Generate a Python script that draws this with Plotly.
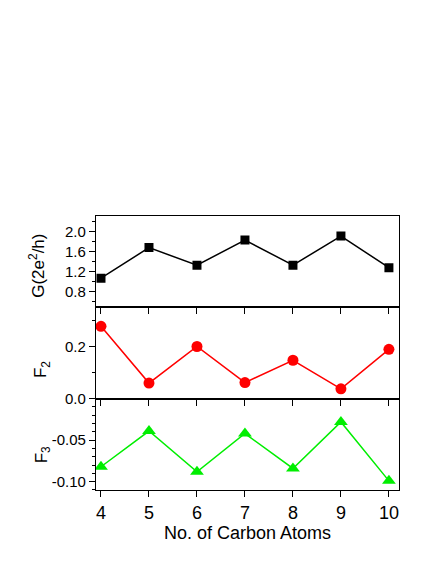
import plotly.graph_objects as go
from plotly.subplots import make_subplots

# data
carbon_atoms = [4, 5, 6, 7, 8, 9, 10]
conductance = [1.07, 1.68, 1.33, 1.83, 1.33, 1.91, 1.28]
f2_values = [0.279, 0.060, 0.201, 0.062, 0.148, 0.038, 0.190]
f3_values = [-0.082, -0.039, -0.088, -0.042, -0.084, -0.028, -0.099]

g_ticks = [0.8, 1.2, 1.6, 2.0]
f2_ticks = [0.0, 0.2]
f3_ticks = [-0.05, -0.10]
f3_ticktext = ["-0.05", "-0.10"]

font_family = "Arial, Liberation Sans, sans-serif"

fig = make_subplots(rows=3, cols=1, shared_xaxes=True, vertical_spacing=0)

fig.add_trace(
    go.Scatter(
        x=carbon_atoms,
        y=conductance,
        mode="lines+markers",
        line={"color": "black", "width": 1.5},
        marker={"symbol": "square", "size": 9, "color": "black"},
        showlegend=False,
    ),
    row=1,
    col=1,
)
fig.add_trace(
    go.Scatter(
        x=carbon_atoms,
        y=f2_values,
        mode="lines+markers",
        line={"color": "#ff0000", "width": 1.5},
        marker={"symbol": "circle", "size": 11, "color": "#ff0000"},
        showlegend=False,
    ),
    row=2,
    col=1,
)
fig.add_trace(
    go.Scatter(
        x=carbon_atoms,
        y=f3_values,
        mode="lines+markers",
        line={"color": "#00ee00", "width": 1.5},
        marker={"symbol": "triangle-up", "size": 12, "color": "#00ee00"},
        showlegend=False,
    ),
    row=3,
    col=1,
)

axis_common = dict(
    showline=True,
    linecolor="black",
    linewidth=1.3,
    mirror=True,
    ticks="outside",
    ticklen=6,
    tickwidth=1.2,
    tickcolor="black",
    showgrid=False,
    zeroline=False,
)

for r in (1, 2, 3):
    fig.update_xaxes(
        range=[3.896, 10.21],
        tickvals=carbon_atoms,
        tickfont={"size": 18, "color": "black"},
        row=r,
        col=1,
        **axis_common,
    )

fig.update_xaxes(
    title={"text": "No. of Carbon Atoms", "font": {"size": 18, "color": "black"}, "standoff": 2},
    row=3,
    col=1,
)

minor_style = dict(ticks="outside", ticklen=3, tickwidth=1.1, tickcolor="black", showgrid=False)

fig.update_yaxes(
    range=[0.49, 2.31],
    tickvals=g_ticks,
    tickformat=".1f",
    tickfont={"size": 15, "color": "black"},
    minor=dict(dtick=0.2, tick0=0, **minor_style),
    row=1,
    col=1,
    **axis_common,
)
fig.update_yaxes(
    range=[0.0, 0.352],
    tickvals=f2_ticks,
    tickformat=".1f",
    tickfont={"size": 15, "color": "black"},
    minor=dict(dtick=0.1, tick0=0, **minor_style),
    row=2,
    col=1,
    **axis_common,
)
fig.update_yaxes(
    range=[-0.11, 0.0],
    tickvals=f3_ticks,
    ticktext=f3_ticktext,
    tickfont={"size": 15, "color": "black"},
    minor=dict(dtick=0.01, tick0=0, **minor_style),
    row=3,
    col=1,
    **axis_common,
)

# rotated y titles placed as annotations
label_style = dict(
    textangle=-90, xref="paper", yref="paper", xanchor="center", yanchor="middle",
    showarrow=False, font={"size": 17, "color": "black"},
)
fig.add_annotation(text="G(2e<sup>2</sup>/h)", x=-0.195, y=0.818, **label_style)
fig.add_annotation(text="F<sub>2</sub>", x=-0.178, y=0.438, **label_style)
fig.add_annotation(text="F<sub>3</sub>", x=-0.175, y=0.13, **label_style)

# page body adds an 8px offset, so margins are shifted to keep the plot area in place
fig.update_layout(
    width=436,
    height=564,
    margin={"l": 88, "r": 45, "t": 208, "b": 82},
    paper_bgcolor="white",
    plot_bgcolor="white",
    font={"family": font_family, "color": "black"},
)

fig.write_html("out.html")
